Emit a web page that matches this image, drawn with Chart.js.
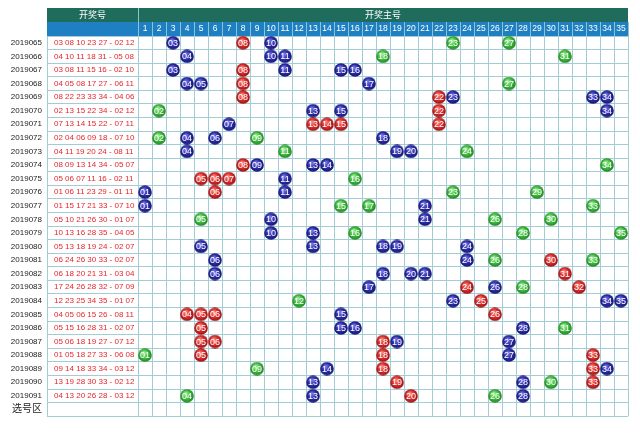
<!DOCTYPE html>
<html>
<head>
<meta charset="utf-8">
<script src="https://cdn.jsdelivr.net/npm/chart.js@4.4.1/dist/chart.umd.min.js"></script>
<style>
  body { margin: 0; background: #fff; }
  canvas { display: block; }
</style>
</head>
<body>
<canvas id="tendencia" width="640" height="433"></canvas>
<script>
// dados
const qishu = ['2019065', '2019066', '2019067', '2019068', '2019069', '2019070', '2019071',
  '2019072', '2019073', '2019074', '2019075', '2019076', '2019077', '2019078', '2019079',
  '2019080', '2019081', '2019082', '2019083', '2019084', '2019085', '2019086', '2019087',
  '2019088', '2019089', '2019090', '2019091'];

const qianqu = [
  [3, 8, 10, 23, 27], [4, 10, 11, 18, 31], [3, 8, 11, 15, 16], [4, 5, 8, 17, 27],
  [8, 22, 23, 33, 34], [2, 13, 15, 22, 34], [7, 13, 14, 15, 22], [2, 4, 6, 9, 18],
  [4, 11, 19, 20, 24], [8, 9, 13, 14, 34], [5, 6, 7, 11, 16], [1, 6, 11, 23, 29],
  [1, 15, 17, 21, 33], [5, 10, 21, 26, 30], [10, 13, 16, 28, 35], [5, 13, 18, 19, 24],
  [6, 24, 26, 30, 33], [6, 18, 20, 21, 31], [17, 24, 26, 28, 32], [12, 23, 25, 34, 35],
  [4, 5, 6, 15, 26], [5, 15, 16, 28, 31], [5, 6, 18, 19, 27], [1, 5, 18, 27, 33],
  [9, 14, 18, 33, 34], [13, 19, 28, 30, 33], [4, 13, 20, 26, 28]
];

const houqu = [
  [2, 12], [5, 8], [2, 10], [6, 11], [4, 6], [2, 12], [7, 11], [7, 10], [8, 11],
  [5, 7], [2, 11], [1, 11], [7, 10], [1, 7], [4, 5], [2, 7], [2, 7], [3, 4],
  [7, 9], [1, 7], [8, 11], [2, 7], [7, 12], [6, 8], [3, 12], [2, 12], [3, 12]
];

// r = 重号 (vermelho), b = 邻号 (azul), g = 其他 (verde)
const cores = ['brbgg', 'bbbgg', 'brbbb', 'bbrbg', 'rrbbb', 'gbbrb', 'brrrr', 'gbbgb', 'bgbbg',
  'rbbbg', 'rrrbg', 'brbgg', 'bggbg', 'gbbgg', 'bbggg', 'bbbbb', 'bbgrg', 'bbbbr',
  'brbgr', 'gbrbb', 'rrrbr', 'rbbbg', 'rrrbb', 'grrbr', 'gbrrb', 'brbgr', 'gbrgb'];

const colunas = ['1', '2', '3', '4', '5', '6', '7', '8', '9', '10', '11', '12', '13', '14', '15',
  '16', '17', '18', '19', '20', '21', '22', '23', '24', '25', '26', '27', '28', '29', '30',
  '31', '32', '33', '34', '35'];

const ultimaLinha = '选号区';

const corGrade = '#a3cdd5';
const fonte = '"Liberation Sans", "Noto Sans CJK SC", sans-serif';

function dois(n) {
  return String(n).padStart(2, '0');
}

const linhas = qishu.concat([ultimaLinha]);
const textos = qianqu.map((q, i) => q.map(dois).join(' ') + ' - ' + houqu[i].map(dois).join(' '));
textos.push('');

// bolinhas com degradê
function bola(claro, base, escuro) {
  const c = document.createElement('canvas');
  c.width = 14;
  c.height = 14;
  const g = c.getContext('2d');
  const grad = g.createRadialGradient(5.5, 4.5, 0.5, 7, 7, 7);
  grad.addColorStop(0, claro);
  grad.addColorStop(0.6, base);
  grad.addColorStop(1, escuro);
  g.fillStyle = grad;
  g.beginPath();
  g.arc(7, 7, 6.8, 0, Math.PI * 2);
  g.fill();
  return c;
}

const estilos = {
  r: { nome: '重号', img: bola('#ff8a80', '#d42a2a', '#981010') },
  b: { nome: '邻号', img: bola('#7a7ae8', '#2a2aa4', '#15156e') },
  g: { nome: '其他', img: bola('#a8f0a0', '#3cb83c', '#1f7f1f') }
};

const datasets = ['r', 'b', 'g'].map(function (k) {
  const pontos = [];
  qianqu.forEach(function (q, i) {
    q.forEach(function (n, j) {
      if (cores[i][j] === k) pontos.push({ x: String(n), y: qishu[i] });
    });
  });
  return {
    label: estilos[k].nome,
    data: pontos,
    pointStyle: estilos[k].img,
    pointRadius: 7,
    yAxisID: 'y'
  };
});

// cabeçalho e bordas da coluna de texto
const moldura = {
  id: 'moldura',
  beforeDraw(chart) {
    const ctx = chart.ctx;
    const area = chart.chartArea;
    const esq = 47;
    ctx.save();
    ctx.fillStyle = '#fff';
    ctx.fillRect(0, 0, chart.width, chart.height);

    ctx.fillStyle = '#1f6b5c';
    ctx.fillRect(esq, 8, area.right - esq, 14);
    ctx.fillStyle = '#1e80c2';
    ctx.fillRect(esq, 22, area.right - esq, area.top - 22);

    ctx.strokeStyle = '#8fc4cf';
    ctx.lineWidth = 1;
    ctx.beginPath();
    ctx.moveTo(Math.round(area.left) + 0.5, 8);
    ctx.lineTo(Math.round(area.left) + 0.5, area.top);
    ctx.stroke();

    ctx.fillStyle = '#fff';
    ctx.font = '9px ' + fonte;
    ctx.textAlign = 'center';
    ctx.textBaseline = 'middle';
    ctx.fillText('开奖号', (esq + area.left) / 2, 15.5);
    ctx.fillText('开奖主号', (area.left + area.right) / 2, 15.5);
    ctx.restore();
  },
  beforeDatasetsDraw(chart) {
    const ctx = chart.ctx;
    const area = chart.chartArea;
    const sy = chart.scales.y;
    const meio = (sy.getPixelForValue(1) - sy.getPixelForValue(0)) / 2;
    ctx.save();
    ctx.strokeStyle = corGrade;
    ctx.lineWidth = 1;
    ctx.beginPath();
    ctx.moveTo(47.5, area.top);
    ctx.lineTo(47.5, area.bottom);
    for (let i = 0; i <= linhas.length; i++) {
      const y = Math.round(sy.getPixelForValue(i) - meio - 0.5) + 0.5;
      ctx.moveTo(47, y);
      ctx.lineTo(area.left, y);
    }
    ctx.stroke();
    ctx.restore();
  }
};

// números dentro das bolas
const numeros = {
  id: 'numeros',
  afterDatasetsDraw(chart) {
    const ctx = chart.ctx;
    ctx.save();
    ctx.fillStyle = '#fff';
    ctx.font = '9px "Liberation Sans Narrow", "Liberation Sans", sans-serif';
    ctx.textAlign = 'center';
    ctx.textBaseline = 'middle';
    chart.data.datasets.forEach(function (ds, i) {
      chart.getDatasetMeta(i).data.forEach(function (pt, j) {
        ctx.fillText(dois(ds.data[j].x), pt.x, pt.y + 0.5);
      });
    });
    ctx.restore();
  }
};

const ctx = document.getElementById('tendencia').getContext('2d');
const grafico = new Chart(ctx, {
  type: 'scatter',
  data: { datasets: datasets },
  options: {
    responsive: false,
    devicePixelRatio: 1,
    animation: false,
    events: [],
    layout: { padding: { top: 22, right: 12, bottom: 5, left: 0 } },
    plugins: { legend: { display: false }, tooltip: { enabled: false } },
    scales: {
      x: {
        type: 'category',
        position: 'top',
        labels: colunas,
        offset: true,
        grid: { offset: true, color: corGrade, drawTicks: true, tickLength: 14, tickColor: '#8fc4cf' },
        border: { display: false },
        ticks: { color: '#fff', font: { size: 8.5, family: fonte }, padding: -12, autoSkip: false, maxRotation: 0 },
        afterFit: function (s) { s.height = 14; }
      },
      y: {
        type: 'category',
        position: 'left',
        labels: linhas,
        offset: true,
        weight: 1,
        grid: { offset: true, color: corGrade, drawTicks: false },
        border: { display: false },
        ticks: {
          color: '#222',
          padding: 12,
          autoSkip: false,
          font: function (c) {
            return c.index === linhas.length - 1
              ? { size: 10, family: fonte }
              : { size: 8, family: fonte };
          }
        },
        afterFit: function (s) { s.width = 54; }
      },
      yTexto: {
        type: 'category',
        position: 'left',
        labels: textos,
        offset: true,
        weight: 0,
        grid: { display: false },
        border: { display: false },
        ticks: { color: '#e3262d', crossAlign: 'far', autoSkip: false, font: { size: 8, family: fonte } },
        afterFit: function (s) { s.width = 84; }
      }
    }
  },
  plugins: [moldura, numeros]
});
</script>
</body>
</html>
